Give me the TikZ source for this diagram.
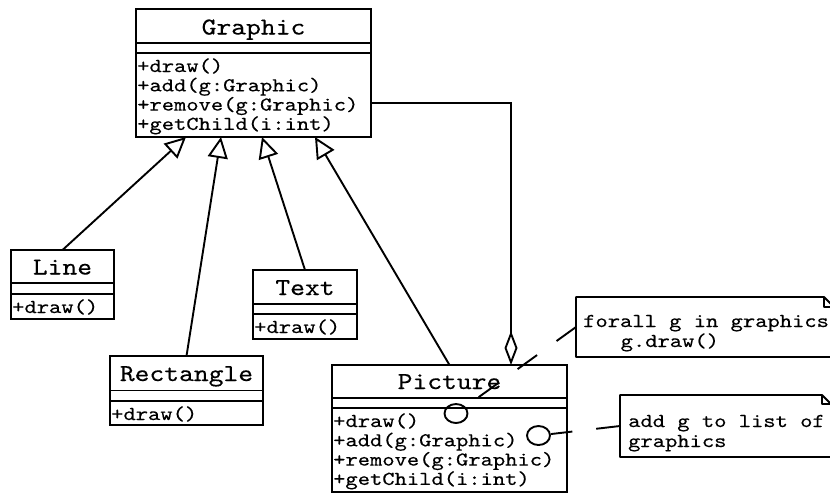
\documentclass[tikz,border=0pt]{standalone}
\usepackage{fontspec}
\usepackage{graphicx}
\usetikzlibrary{arrows.meta,calc,shapes.geometric}

% slightly emboldened typewriter face for all labels
\newfontfamily\umltt{lmmono10-regular.otf}[FakeBold=0.3]
% typewriter text, compressed vertically
\newcommand\lowtt[1]{\scalebox{1}[0.84]{#1}}
\newcommand\lowtitle[1]{\scalebox{1}[0.86]{#1}}

\tikzset{
  classbox/.style={draw, rectangle, line width=1.9pt, inner sep=0pt, outer sep=0pt},
  sepline/.style={line width=1.9pt},
  ctitle/.style={font=\umltt\fontsize{28.2}{30}\selectfont, anchor=base, inner sep=0pt},
  member/.style={font=\umltt\fontsize{23.4}{26}\selectfont, anchor=base west, inner sep=0pt},
  generalize/.style={line width=1.9pt, -{Triangle[open, length=21pt, width=20pt]}},
  aggregate/.style={line width=1.9pt, -{Diamond[open, length=34pt, width=13pt]}},
  iface/.style={draw, ellipse, line width=1.9pt, minimum width=23pt, minimum height=19pt, inner sep=0pt},
  noteline/.style={line width=1.9pt, dash pattern=on 24pt off 24pt},
  noteframe/.style={rectangle, inner sep=0pt, outer sep=0pt},
  notebox/.style={line width=1.9pt, line join=round}
}

\begin{document}
\begin{tikzpicture}[x=1pt, y=-1pt]
\useasboundingbox (0,0) rectangle (830,493);
\clip (0,0) rectangle (830,493);

% ---------- Graphic ----------
\node[classbox, minimum width=235pt, minimum height=128pt] (graphic) at (253.5,73) {};
\draw[sepline] ($(graphic.north west)+(0,34)$) -- ($(graphic.north east)+(0,34)$);
\draw[sepline] ($(graphic.north west)+(0,44)$) -- ($(graphic.north east)+(0,44)$);
\node[ctitle] (graphic-name) at (253.5,34.5) {\lowtitle{Graphic}};
\node[member] (graphic-m1) at (137,72) {\lowtt{+draw()}};
\node[member] (graphic-m2) at (137,91.3) {\lowtt{+add(g:Graphic)}};
\node[member] (graphic-m3) at (137,110.6) {\lowtt{+remove(g:Graphic)}};
\node[member] (graphic-m4) at (137,129.9) {\lowtt{+getChild(i:int)}};

% ---------- Line ----------
\node[classbox, minimum width=103pt, minimum height=69pt] (line) at (62.5,284.5) {};
\draw[sepline] ($(line.north west)+(0,33)$) -- ($(line.north east)+(0,33)$);
\draw[sepline] ($(line.north west)+(0,44)$) -- ($(line.north east)+(0,44)$);
\node[ctitle] (line-name) at (62.5,274.5) {\lowtitle{Line}};
\node[member] (line-m1) at (12,313) {\lowtt{+draw()}};

% ---------- Rectangle ----------
\node[classbox, minimum width=153pt, minimum height=69pt] (rect) at (186.5,390.5) {};
\draw[sepline] ($(rect.north west)+(0,34.5)$) -- ($(rect.north east)+(0,34.5)$);
\draw[sepline] ($(rect.north west)+(0,45)$) -- ($(rect.north east)+(0,45)$);
\node[ctitle] (rect-name) at (186.5,381) {\lowtitle{Rectangle}};
\node[member] (rect-m1) at (111,420) {\lowtt{+draw()}};

% ---------- Text ----------
\node[classbox, minimum width=104pt, minimum height=69pt] (text) at (305,304.5) {};
\draw[sepline] ($(text.north west)+(0,34)$) -- ($(text.north east)+(0,34)$);
\draw[sepline] ($(text.north west)+(0,44)$) -- ($(text.north east)+(0,44)$);
\node[ctitle] (text-name) at (305,295) {\lowtitle{Text}};
\node[member] (text-m1) at (254,333) {\lowtt{+draw()}};

% ---------- Picture ----------
\node[classbox, minimum width=235pt, minimum height=127pt] (picture) at (449.5,428.5) {};
\draw[sepline] ($(picture.north west)+(0,33)$) -- ($(picture.north east)+(0,33)$);
\draw[sepline] ($(picture.north west)+(0,43)$) -- ($(picture.north east)+(0,43)$);
\node[ctitle] (picture-name) at (449.5,389) {\lowtitle{Picture}};
\node[member] (picture-m1) at (333,427) {\lowtt{+draw()}};
\node[member] (picture-m2) at (333,446.3) {\lowtt{+add(g:Graphic)}};
\node[member] (picture-m3) at (333,465.6) {\lowtt{+remove(g:Graphic)}};
\node[member] (picture-m4) at (333,484.9) {\lowtt{+getChild(i:int)}};

% lollipop points on Picture
\node[iface] (drawpt) at (456,413.5) {};
\node[iface] (addpt) at (538.5,435.5) {};

% ---------- Notes ----------
\node[noteframe, minimum width=258pt, minimum height=60pt] (note1) at (705,327) {};
\draw[notebox] (note1.north west) -- ($(note1.north east)+(-10,0)$) -- ($(note1.north east)+(0,10)$)
  -- (note1.south east) -- (note1.south west) -- cycle;
\draw[notebox] ($(note1.north east)+(-10,0)$) |- ($(note1.north east)+(0,10)$);
\node[member] (note1-l1) at (583,327) {\lowtt{forall g in graphics}};
\node[member] (note1-l2) at (620.5,347) {\lowtt{g.draw()}};

\node[noteframe, minimum width=211pt, minimum height=62pt] (note2) at (725.5,426) {};
\draw[notebox] (note2.north west) -- ($(note2.north east)+(-9,0)$) -- ($(note2.north east)+(0,9)$)
  -- (note2.south east) -- (note2.south west) -- cycle;
\draw[notebox] ($(note2.north east)+(-9,0)$) |- ($(note2.north east)+(0,9)$);
\node[member] (note2-l1) at (628,427) {\lowtt{add g to list of}};
\node[member] (note2-l2) at (628,447) {\lowtt{graphics}};

% ---------- Connectors ----------
\coordinate (g1) at ($(graphic.south west)+(50,0)$);
\coordinate (g2) at ($(graphic.south west)+(85,0)$);
\coordinate (g3) at ($(graphic.south west)+(126,0)$);
\coordinate (g4) at ($(graphic.south west)+(179,0)$);
\draw[generalize] (line.north) -- (g1);
\draw[generalize] (rect.north) -- (g2);
\draw[generalize] (text.north) -- (g3);
\draw[generalize] (picture.north) -- (g4);

\coordinate (aggsrc) at ($(graphic.north east)+(0,94)$);
\coordinate (aggdst) at ($(picture.north west)+(179,0)$);
\draw[aggregate] (aggsrc) -| (aggdst);

\draw[noteline] (note1.west) -- (drawpt);
\draw[noteline] (note2.west) -- (addpt);
\end{tikzpicture}
\end{document}
